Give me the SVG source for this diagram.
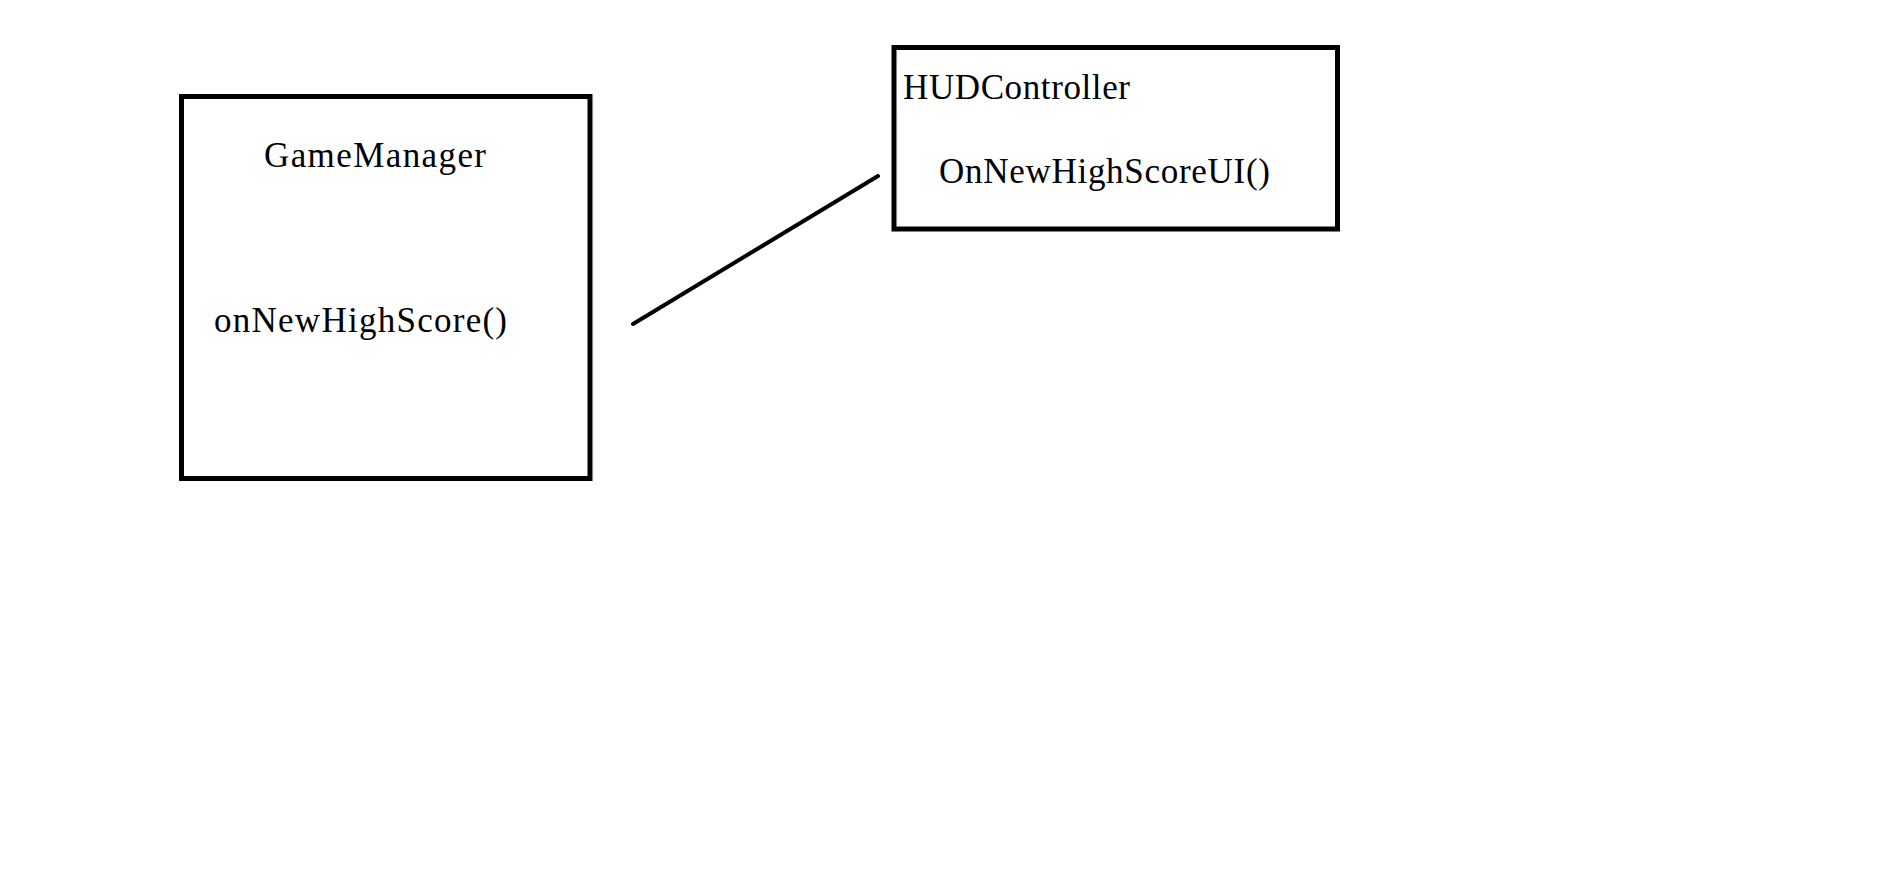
<svg xmlns="http://www.w3.org/2000/svg" width="1895" height="879" viewBox="0 0 1895 879">
<style>
.box{fill:none;stroke:#000;stroke-width:5}
.lbl{font-family:"Liberation Serif","DejaVu Serif",serif;font-size:35px;fill:#000}
.conn{stroke:#000;stroke-width:4;stroke-linecap:round;fill:none}
</style>
<rect width="1895" height="879" fill="#fff"/>
<g id="GameManager">
<rect class="box" x="181.5" y="96.5" width="408.5" height="382"/>
<text class="lbl" x="264" y="167" textLength="222">GameManager</text>
<text class="lbl" x="214" y="332" textLength="293">onNewHighScore()</text>
</g>
<g id="HUDController">
<rect class="box" x="894" y="47.5" width="443.5" height="181.5"/>
<text class="lbl" x="903" y="99" textLength="227">HUDController</text>
<text class="lbl" x="939" y="183" textLength="331">OnNewHighScoreUI()</text>
</g>
<g id="connectors">
<line class="conn" x1="633" y1="324" x2="878" y2="176"/>
</g>
</svg>
